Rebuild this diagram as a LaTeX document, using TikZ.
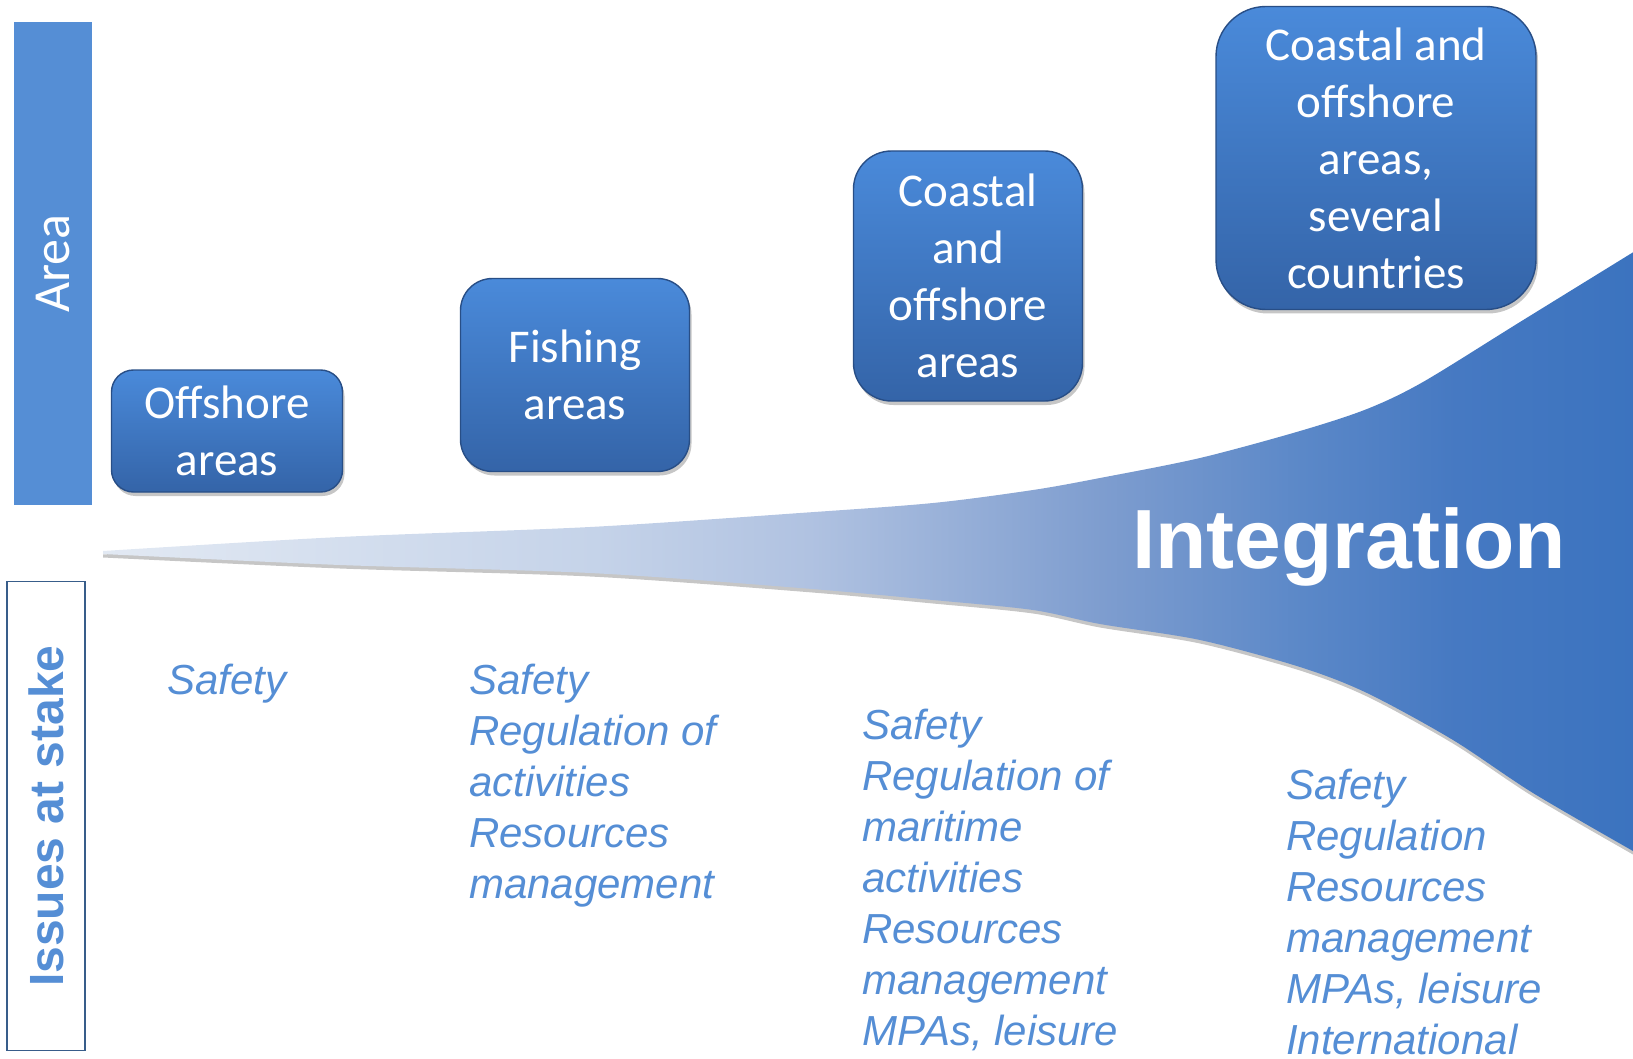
\documentclass[tikz,border=0pt]{standalone}
\usepackage{fontspec}
\setmainfont{Liberation Sans}
\newfontfamily\carlito{Carlito}
\usetikzlibrary{shadows}
\definecolor{stakeblue}{HTML}{558ED5}
\definecolor{stakeframe}{HTML}{385D8A}
\definecolor{areatop}{HTML}{4A8ADA}
\definecolor{areabottom}{HTML}{3464A8}
\definecolor{arearim}{HTML}{284E86}
\definecolor{hornA}{HTML}{E2E9F3}
\definecolor{hornB}{HTML}{C5D3E9}
\definecolor{hornC}{HTML}{B0C2E1}
\definecolor{hornD}{HTML}{7E9DCF}
\definecolor{hornE}{HTML}{5B88C8}
\definecolor{hornF}{HTML}{4679C2}
\definecolor{hornG}{HTML}{3B73BF}
\pgfdeclarehorizontalshading{horn}{100bp}{color(0bp)=(hornA); color(25bp)=(hornA); color(41bp)=(hornB); color(48bp)=(hornC); color(57.5bp)=(hornD); color(64bp)=(hornE); color(69bp)=(hornF); color(75bp)=(hornG); color(100bp)=(hornG)}

\begin{document}
\begin{tikzpicture}[x=1pt,y=-1pt]
\def\boxfont{\carlito\fontsize{47}{57}\selectfont}
\def\issuefont{\itshape\fontsize{42}{51}\selectfont}
\tikzset{area box/.style={
	draw=arearim,
	line width=1.4pt,
	rounded corners=#1,
	top color=areatop,
	bottom color=areabottom,
	text=white,
	align=center,
	font=\boxfont,
	inner sep=0pt,
	drop shadow={shadow xshift=2pt, shadow yshift=-4pt, opacity=0.45}
}, issue text/.style={
	anchor=north west,
	align=left,
	inner sep=0pt,
	text=stakeblue,
	font=\issuefont
}}
\useasboundingbox (0,0) rectangle (1633,1059);
\clip (0,0) rectangle (1633,1059);
\shade[shading=horn, drop shadow={shadow xshift=0pt, shadow yshift=-3.5pt, opacity=0.45}]
	plot[smooth, tension=0.5] coordinates {(103,551) (340,537) (590,527) (800,513) (933,503) (1033,490) (1100,478) (1200,458) (1300,431) (1367,409) (1423,382) (1520,322) (1640,248)}
	-- plot[smooth, tension=0.5] coordinates {(1640,855) (1533,793) (1453,740) (1367,693) (1300,667) (1200,640) (1100,624) (1033,610) (933,600) (800,588) (590,573) (340,565) (103,554)}
	-- cycle;
\node[fill=stakeblue, rotate=90, minimum width=483pt, minimum height=78pt, inner sep=0pt,
	text=white, font=\carlito\fontsize{52}{60}\selectfont] (areabar) at (53,263.5) {Area};
\node[draw=stakeframe, line width=1.7pt, rotate=90, minimum width=469pt, minimum height=78pt, inner sep=0pt,
	text=stakeblue, font=\bfseries\fontsize{48}{58}\selectfont] (stakebar) at (46,816) {Issues at stake};
\foreach \bx/\by/\bw/\bh/\br/\btxt [count=\i] in {
	227/431/231/122/22/{Offshore\\areas},
	575/375/229/193/32/{Fishing\\areas},
	968/276/229/250/38/{Coastal\\and\\offshore\\areas},
	1376/158/320/303/50/{Coastal and\\offshore\\areas,\\several\\countries}}
{
	\node[area box=\br pt, minimum width=\bw pt, minimum height=\bh pt] (area\i) at (\bx,\by) {\btxt};
}
\foreach \ix/\iy/\itxt [count=\i] in {
	167/664/{Safety},
	469/664/{Safety\\Regulation of\\activities\\Resources\\management},
	862/709/{Safety\\Regulation of\\maritime\\activities\\Resources\\management\\MPAs, leisure},
	1286/769/{Safety\\Regulation\\Resources\\management\\MPAs, leisure\\International}}
{
	\node[issue text] (issue\i) at (\ix,\iy) {\itxt};
}
\node[anchor=base west, inner sep=0pt, text=white, font=\bfseries\fontsize{84}{100}\selectfont] (integration) at (1132,568) {Integration};
\end{tikzpicture}
\end{document}
